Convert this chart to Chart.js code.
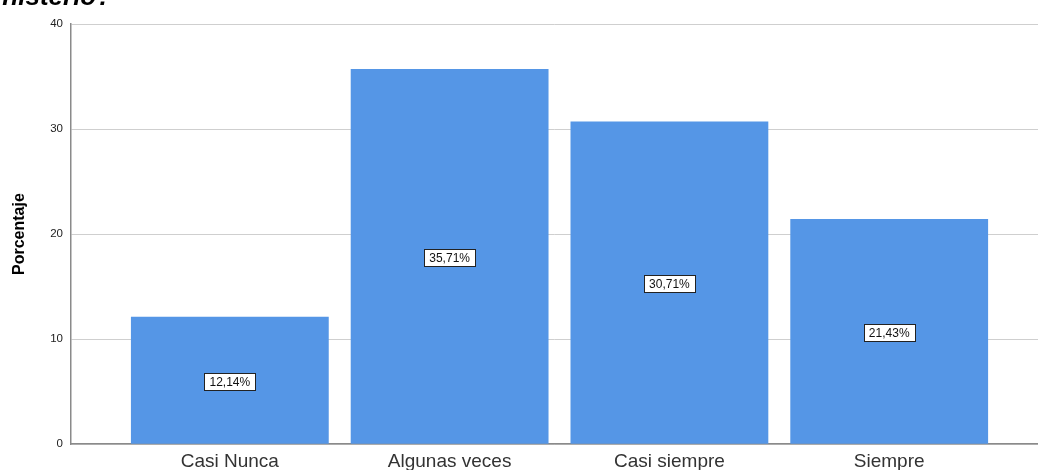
<!DOCTYPE html>
<html>
<head>
<meta charset="utf-8">
<script src="https://cdn.jsdelivr.net/npm/chart.js@4/dist/chart.umd.min.js"></script>
<style>
  html, body { margin: 0; padding: 0; background: #fff; }
</style>
</head>
<body>
<canvas id="barChart" width="1038" height="470"></canvas>
<script>
const categorias = ['Casi Nunca', 'Algunas veces', 'Casi siempre', 'Siempre'];
const porcentajes = [12.14, 35.71, 30.71, 21.43];
const etiquetas = ['12,14%', '35,71%', '30,71%', '21,43%'];
const yTicks = [0, 10, 20, 30, 40];
const tituloCortado = 'ministerio?';

// cajas blancas con el porcentaje en medio de cada barra
const etiquetaBarras = {
    id: 'etiquetaBarras',
    afterDatasetsDraw(chart) {
        const ctx = chart.ctx;
        const meta = chart.getDatasetMeta(0);
        const y = chart.scales.y;
        ctx.save();
        ctx.font = '12px "Liberation Sans", Arial, sans-serif';
        ctx.textAlign = 'center';
        ctx.textBaseline = 'middle';
        meta.data.forEach((bar, i) => {
            const cy = y.getPixelForValue(porcentajes[i] / 2) + 1;
            const w = Math.round(ctx.measureText(etiquetas[i]).width + 10);
            const h = 17;
            const x0 = Math.round(bar.x - w / 2) + 0.5;
            const y0 = Math.round(cy - h / 2) + 0.5;
            ctx.fillStyle = '#fff';
            ctx.fillRect(x0, y0, w, h);
            ctx.strokeStyle = '#222';
            ctx.lineWidth = 1;
            ctx.strokeRect(x0, y0, w, h);
            ctx.fillStyle = '#111';
            ctx.fillText(etiquetas[i], bar.x, cy + 1);
        });
        ctx.restore();
    }
};

// resto del titulo que queda cortado arriba
const tituloArriba = {
    id: 'tituloArriba',
    afterDraw(chart) {
        const ctx = chart.ctx;
        ctx.save();
        ctx.font = 'italic bold 26px "Liberation Sans", Arial, sans-serif';
        ctx.fillStyle = '#000';
        ctx.textBaseline = 'alphabetic';
        ctx.fillText(tituloCortado, -28, 5);
        ctx.restore();
    }
};

new Chart(document.getElementById('barChart'), {
    type: 'bar',
    data: {
        datasets: [{
            data: porcentajes.map((v, i) => ({ x: i, y: v })),
            backgroundColor: '#5596e6',
            borderWidth: 0,
            barPercentage: 0.9,
            categoryPercentage: 1.0
        }]
    },
    options: {
        responsive: false,
        animation: false,
        layout: { padding: { top: 24, right: 0, bottom: -9, left: 10 } },
        plugins: {
            legend: { display: false },
            tooltip: { enabled: false }
        },
        scales: {
            x: {
                type: 'linear',
                offset: false,
                min: -0.7227,
                max: 3.677,
                afterBuildTicks: axis => { axis.ticks = categorias.map((c, i) => ({ value: i })); },
                grid: { display: false, drawTicks: false },
                border: { color: '#8a8a8a', width: 1.5 },
                ticks: {
                    autoSkip: false,
                    maxRotation: 0,
                    padding: 6,
                    color: '#333',
                    font: { family: '"Liberation Sans", Arial, sans-serif', size: 19 },
                    callback: v => categorias[v] ?? ''
                }
            },
            y: {
                min: 0,
                max: 40,
                afterBuildTicks: axis => { axis.ticks = yTicks.map(v => ({ value: v })); },
                grid: { color: '#cfcfcf', lineWidth: 1, drawTicks: false },
                border: { color: '#8a8a8a', width: 1.5 },
                ticks: {
                    padding: 8,
                    color: '#222',
                    font: { family: '"Liberation Sans", Arial, sans-serif', size: 11.5 }
                },
                title: {
                    display: true,
                    text: 'Porcentaje',
                    color: '#000',
                    padding: { top: 0, bottom: 13 },
                    font: { family: '"Liberation Sans", Arial, sans-serif', size: 16, weight: 'bold' }
                }
            }
        }
    },
    plugins: [etiquetaBarras, tituloArriba]
});
</script>
</body>
</html>
